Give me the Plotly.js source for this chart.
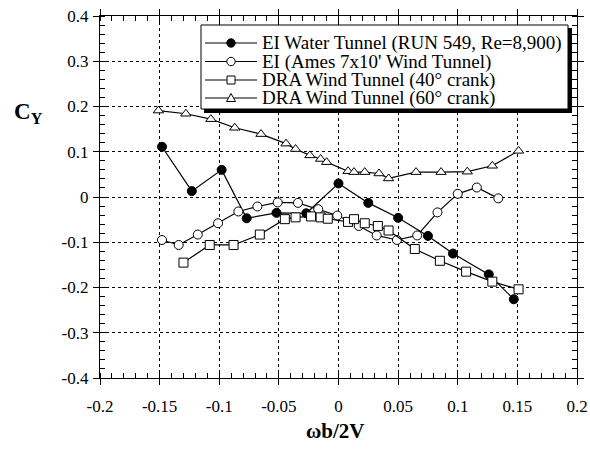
<!DOCTYPE html>
<html><head><meta charset="utf-8">
<script src="https://cdn.plot.ly/plotly-3.0.1.min.js"></script>
<style>html,body{margin:0;padding:0;background:#fff}#chart{width:590px;height:449px}</style>
</head><body><div id="chart"></div>
<script>
// ---- data ----
const seriesNames = ["EI Water Tunnel (RUN 549, Re=8,900)", "EI (Ames 7x10' Wind Tunnel)", "DRA Wind Tunnel (40\u00b0 crank)", "DRA Wind Tunnel (60\u00b0 crank)"];

const xWater = [-0.148,-0.123,-0.098,-0.077,-0.052,-0.027,0.000,0.025,0.050,0.075,0.096,0.126,0.147];
const yWater = [0.111,0.013,0.060,-0.047,-0.035,-0.036,0.030,-0.013,-0.046,-0.086,-0.125,-0.171,-0.226];

const xAmes = [-0.148,-0.134,-0.118,-0.101,-0.084,-0.068,-0.051,-0.034,-0.017,-0.001,0.017,0.032,0.049,0.066,0.083,0.100,0.116,0.134];
const yAmes = [-0.095,-0.106,-0.083,-0.058,-0.032,-0.021,-0.012,-0.013,-0.027,-0.041,-0.064,-0.085,-0.095,-0.085,-0.034,0.007,0.021,-0.003];

const xDra40 = [-0.130,-0.108,-0.088,-0.066,-0.045,-0.036,-0.023,-0.015,-0.009,0.008,0.013,0.022,0.033,0.042,0.064,0.085,0.107,0.129,0.151];
const yDra40 = [-0.145,-0.106,-0.106,-0.083,-0.049,-0.045,-0.043,-0.045,-0.048,-0.055,-0.049,-0.058,-0.064,-0.074,-0.115,-0.141,-0.165,-0.187,-0.204];

const xDra60 = [-0.151,-0.128,-0.107,-0.087,-0.065,-0.044,-0.036,-0.024,-0.015,-0.010,0.008,0.013,0.022,0.034,0.042,0.065,0.086,0.108,0.129,0.151];
const yDra60 = [0.191,0.184,0.172,0.153,0.139,0.118,0.106,0.092,0.084,0.077,0.057,0.055,0.055,0.052,0.041,0.055,0.055,0.056,0.069,0.102];

const xTickVals = [-0.2,-0.15,-0.1,-0.05,0,0.05,0.1,0.15,0.2];
const xTickText = ["-0.2","-0.15","-0.1","-0.05","0","0.05","0.1","0.15","0.2"];
const yTickVals = [-0.4,-0.3,-0.2,-0.1,0,0.1,0.2,0.3,0.4];
const yTickText = ["-0.4","-0.3","-0.2","-0.1","0","0.1","0.2","0.3","0.4"];

// ---- layout helpers ----
const W = 590, H = 449, M = {l:100, r:13, t:16, b:71};
const PW = W - M.l - M.r, PH = H - M.t - M.b;
const px = p => (p - M.l) / PW;
const py = p => (H - M.b - p) / PH;
const SERIF = "Liberation Serif, Times New Roman, serif";

const styles = [
  {symbol:'circle', color:'black'},
  {symbol:'circle', color:'white'},
  {symbol:'square', color:'white'},
  {symbol:'triangle-up', color:'white'}
];
const xs = [xWater, xAmes, xDra40, xDra60];
const ys = [yWater, yAmes, yDra40, yDra60];

const traces = [];
for (let i = 0; i < 4; i++) {
  traces.push({
    x: xs[i], y: ys[i], name: seriesNames[i], type:'scatter', mode:'lines+markers',
    line:{color:'black', width:1.2},
    marker:{symbol:styles[i].symbol, size:9, color:styles[i].color, line:{color:'black', width:1}},
    showlegend:false, cliponaxis:false
  });
}
// empty trace to activate tick overlay axes
traces.push({x:[], y:[], xaxis:'x2', yaxis:'y2', showlegend:false, hoverinfo:'skip'});

// custom legend (box, key samples, text)
const legRows = [43, 61.5, 80, 98];
const legLineX0 = 205, legLineX1 = 257, legMarkX = 231;
const shapes = [
  {type:'rect', xref:'paper', yref:'paper', x0:px(204), x1:px(572), y0:py(113), y1:py(28), fillcolor:'black', line:{width:0}, layer:'above'},
  {type:'rect', xref:'paper', yref:'paper', x0:px(201), x1:px(568), y0:py(109), y1:py(25), fillcolor:'white', line:{color:'black', width:1}, layer:'above'}
];
const annotations = [];
const markerShape = (i, yc) => {
  const base = {xref:'paper', yref:'paper', xsizemode:'pixel', ysizemode:'pixel', xanchor:px(legMarkX), yanchor:py(yc),
    fillcolor:styles[i].color, line:{color:'black', width:1}, layer:'above'};
  if (i < 2) return Object.assign(base, {type:'circle', x0:-4.2, x1:4.2, y0:-4.2, y1:4.2});
  if (i === 2) return Object.assign(base, {type:'rect', x0:-4, x1:4, y0:-4, y1:4});
  return Object.assign(base, {type:'path', path:'M-4.5,-3.5 L4.5,-3.5 L0,4.5 Z'});
};
for (let i = 0; i < 4; i++) {
  shapes.push({type:'line', xref:'paper', yref:'paper', x0:px(legLineX0), x1:px(legLineX1), y0:py(legRows[i]), y1:py(legRows[i]),
    line:{color:'black', width:1.2}, layer:'above'});
  shapes.push(markerShape(i, legRows[i]));
  annotations.push({xref:'paper', yref:'paper', x:px(260), y:py(legRows[i]), xanchor:'left', yanchor:'middle',
    text:seriesNames[i], showarrow:false, font:{family:SERIF, size:19, color:'black'}});
}
annotations.push({xref:'paper', yref:'paper', x:px(335), y:py(431), xanchor:'center', yanchor:'middle',
  text:'<b>\u03c9b/2V</b>', showarrow:false, font:{family:SERIF, size:21, color:'black'}});
annotations.push({xref:'paper', yref:'paper', x:px(12), y:py(113), xanchor:'left', yanchor:'middle',
  text:'<b>C<sub>Y</sub></b>', showarrow:false, font:{family:SERIF, size:23, color:'black'}});

const tickFont = {family:SERIF, size:17, color:'black'};
const layout = {
  width:W, height:H, margin:M, paper_bgcolor:'white', plot_bgcolor:'white', showlegend:false,
  font:{family:SERIF, color:'black'},
  xaxis:{range:[-0.2,0.2], tickmode:'array', tickvals:xTickVals, ticktext:xTickText, tickfont:tickFont,
    ticks:'outside', ticklen:6, tickwidth:1, tickcolor:'black', showline:true, linecolor:'black', linewidth:1.2, mirror:'allticks',
    showgrid:true, gridcolor:'black', griddash:'dot', gridwidth:1, zeroline:false, ticklabelstandoff:6,
    minor:{dtick:0.01, tick0:0, ticks:'inside', ticklen:5, tickcolor:'black', showgrid:false}},
  yaxis:{range:[-0.4,0.4], tickmode:'array', tickvals:yTickVals, ticktext:yTickText, tickfont:tickFont,
    ticks:'outside', ticklen:6, tickwidth:1, tickcolor:'black', showline:true, linecolor:'black', linewidth:1.2, mirror:'allticks',
    showgrid:true, gridcolor:'black', griddash:'dot', gridwidth:1, zeroline:false, ticklabelstandoff:1,
    minor:{dtick:0.02, tick0:0, ticks:'inside', ticklen:5, tickcolor:'black', showgrid:false}},
  xaxis2:{overlaying:'x', matches:'x', anchor:'y2', tickmode:'array', tickvals:xTickVals, ticks:'inside', ticklen:6, tickcolor:'black',
    showticklabels:false, showgrid:false, zeroline:false, showline:true, linecolor:'black', mirror:'allticks'},
  yaxis2:{overlaying:'y', matches:'y', anchor:'x2', tickmode:'array', tickvals:yTickVals, ticks:'inside', ticklen:6, tickcolor:'black',
    showticklabels:false, showgrid:false, zeroline:false, showline:true, linecolor:'black', mirror:'allticks'},
  shapes:shapes, annotations:annotations
};
Plotly.newPlot('chart', traces, layout, {staticPlot:true, displayModeBar:false});
</script></body></html>
